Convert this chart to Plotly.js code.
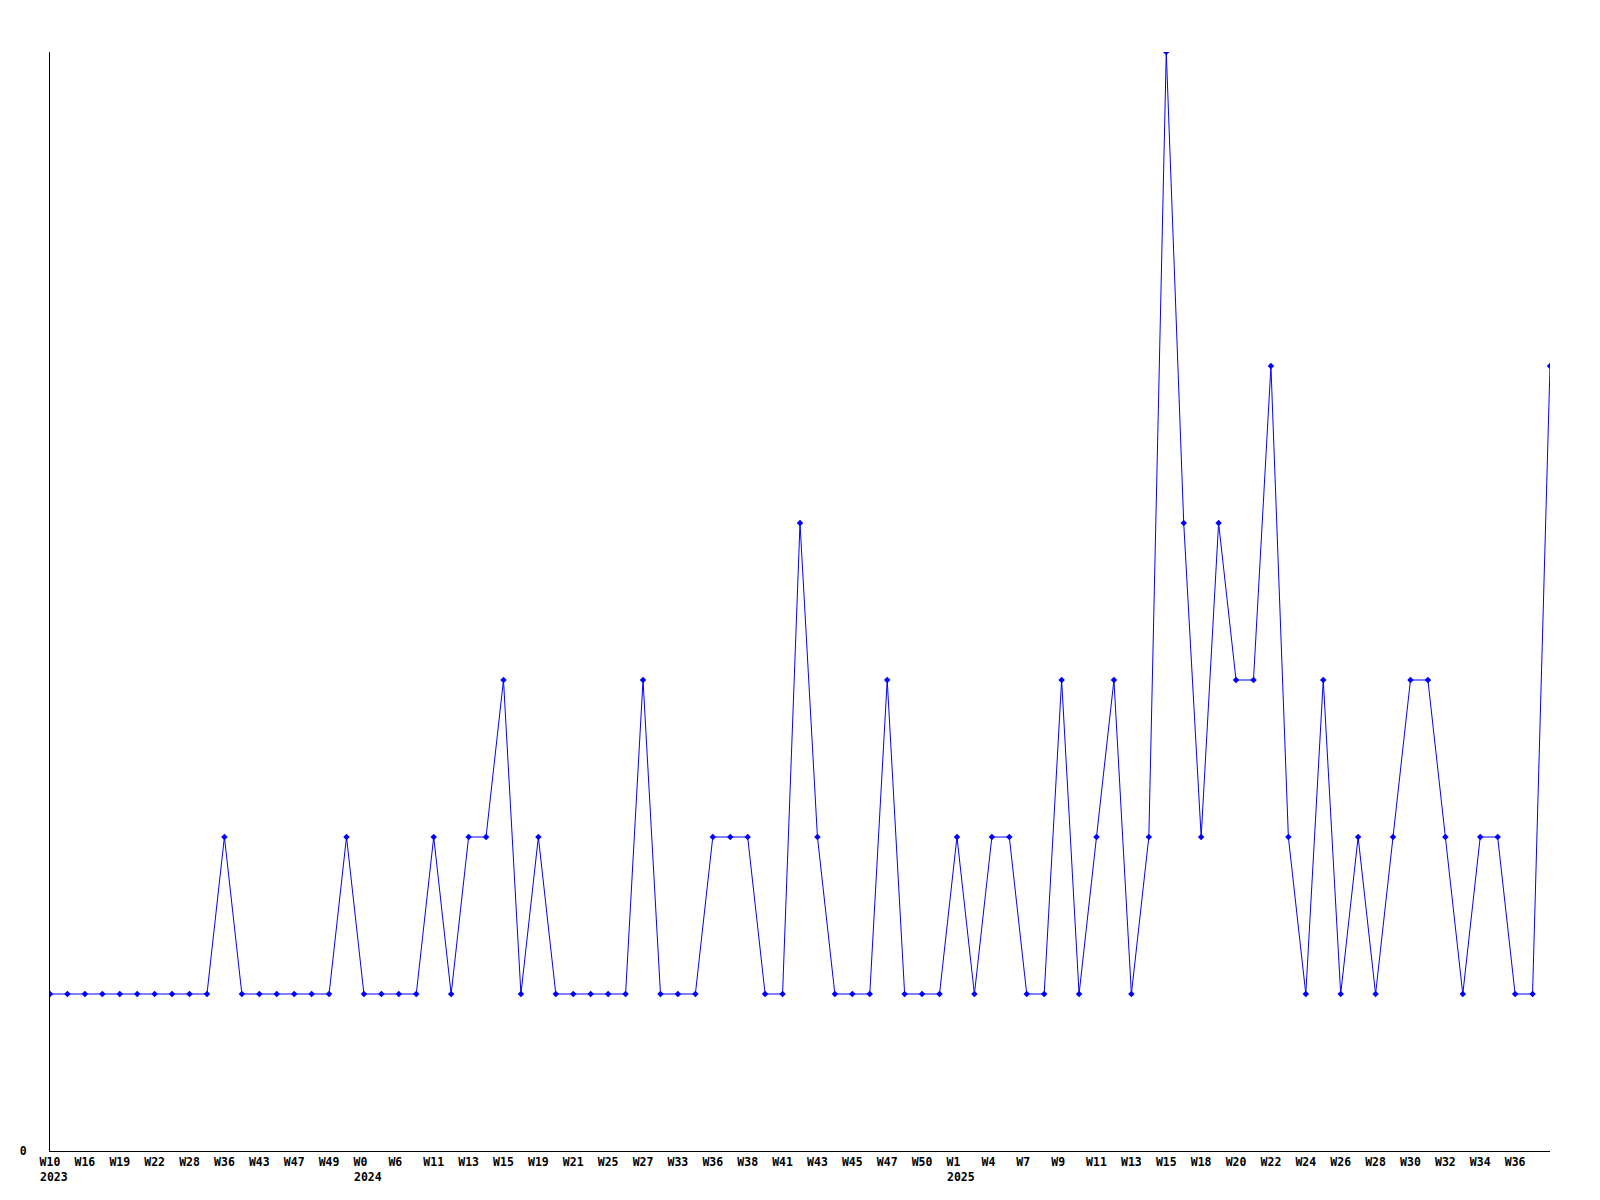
<!DOCTYPE html>
<html>
<head>
<meta charset="utf-8">
<script src="https://cdn.plot.ly/plotly-3.0.1.min.js"></script>
<style>html,body{margin:0;padding:0;background:#fff;}#chart{width:1600px;height:1200px;}</style>
</head>
<body>
<div id="chart"></div>
<script>
// Weekly values in plotting order (one per week that appears on the axis)
const values = [
  1,1,1,1,1,1,1,1,1,1,
  2,
  1,1,1,1,1,1,
  2,
  1,1,1,1,
  2,1,2,2,3,1,2,
  1,1,1,1,1,
  3,
  1,1,1,
  2,2,2,
  1,1,
  4,2,
  1,1,1,
  3,
  1,1,1,
  2,1,2,2,1,1,3,1,2,3,1,2,
  7,4,2,4,3,3,5,2,1,3,1,2,1,2,3,3,2,1,2,2,1,1,5
];

// Tick labels shown on every second week
const tickLabels = [
  "W10","W16","W19","W22","W28","W36","W43","W47","W49",
  "W0","W6","W11","W13","W15","W19","W21","W25","W27","W33","W36","W38","W41","W43","W45","W47","W50",
  "W1","W4","W7","W9","W11","W13","W15","W18","W20","W22","W24","W26","W28","W30","W32","W34","W36"
];

// Year labels: label index -> year
const yearLabelIdx = [0, 9, 26];
const yearLabels = ["2023", "2024", "2025"];

const xIdx = values.map((v, i) => i);
const tickVals = tickLabels.map((t, i) => i * 2);
// pad to 3 characters so every label starts at the same offset from its tick
const tickText = tickLabels.map(t => t.length < 3 ? t + "\u00a0" : t);

const tf = {family: "DejaVu Sans Mono", size: 11.5, color: "#000", weight: "bold"};

const annotations = yearLabels.map((y, k) => ({
  text: y,
  x: tickVals[yearLabelIdx[k]],
  xref: "x",
  y: 0,
  yref: "paper",
  xanchor: "left",
  yanchor: "top",
  xshift: -10.6,
  yshift: -18,
  showarrow: false,
  font: tf,
  borderpad: 0
}));

Plotly.newPlot("chart", [{
  x: xIdx,
  y: values,
  type: "scatter",
  mode: "lines+markers",
  line: {color: "#0000FF", width: 1},
  marker: {symbol: "diamond", size: 5, color: "#0000FF"},
  hoverinfo: "skip"
}], {
  width: 1600,
  height: 1200,
  margin: {l: 50, r: 50, t: 52, b: 49},
  paper_bgcolor: "#fff",
  plot_bgcolor: "#fff",
  showlegend: false,
  font: {family: "DejaVu Sans Mono", size: 11.5, color: "#000"},
  annotations: annotations,
  xaxis: {
    range: [0, values.length - 1],
    showgrid: false,
    zeroline: false,
    showline: true,
    linecolor: "#000",
    linewidth: 1,
    tickmode: "array",
    tickvals: tickVals,
    ticktext: tickText,
    ticks: "",
    tickangle: 0,
    tickfont: tf,
    ticklabelstandoff: 0
  },
  yaxis: {
    range: [0, 7],
    showgrid: false,
    zeroline: false,
    showline: true,
    linecolor: "#000",
    linewidth: 1,
    tickmode: "array",
    tickvals: [0],
    ticktext: ["0"],
    ticks: "",
    tickfont: tf,
    ticklabelstandoff: 20
  }
}, {displayModeBar: false, staticPlot: true});
</script>
</body>
</html>
